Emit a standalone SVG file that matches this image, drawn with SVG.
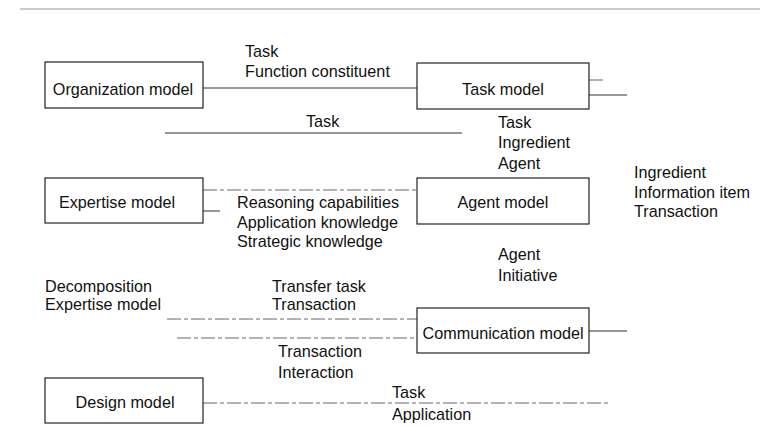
<svg xmlns="http://www.w3.org/2000/svg" width="760" height="427" viewBox="0 0 760 427">
<style>
.box{fill:#fff;stroke:#222;stroke-width:1.2}
.t{font-family:"Liberation Sans",Arial,sans-serif;font-size:16.2px;fill:#111}
.c{text-anchor:middle}
.ln{stroke:#333;stroke-width:1;fill:none}
.dl{stroke:#666;stroke-width:1;fill:none;stroke-dasharray:14 3 4 3}
.fl{stroke:#999;stroke-width:1;fill:none}
</style>
<rect width="760" height="427" fill="#fff"/>
<line class="fl" x1="20" y1="9" x2="760" y2="9"/>
<g id="connectors">
<line class="ln" x1="203" y1="88" x2="417" y2="88"/>
<line class="dl" x1="589" y1="80" x2="605" y2="80"/>
<line class="ln" x1="589" y1="95" x2="627" y2="95"/>
<line class="ln" x1="165" y1="133" x2="462" y2="133"/>
<line class="dl" x1="203" y1="190" x2="417" y2="190"/>
<line class="ln" x1="203" y1="211" x2="220" y2="211"/>
<line class="dl" x1="167" y1="319" x2="417" y2="319"/>
<line class="dl" x1="177" y1="338" x2="417" y2="338"/>
<line class="ln" x1="589" y1="331" x2="627" y2="331"/>
<line class="dl" x1="203" y1="403" x2="609" y2="403"/>
</g>
<g id="organization-model">
<rect class="box" x="45" y="62" width="158" height="46"/>
<text class="t c" x="123" y="95">Organization model</text>
</g>
<g id="task-model">
<rect class="box" x="417" y="63" width="172" height="46"/>
<text class="t c" x="503" y="95">Task model</text>
</g>
<g id="expertise-model">
<rect class="box" x="45" y="178" width="158" height="45"/>
<text class="t c" x="117" y="208">Expertise model</text>
</g>
<g id="agent-model">
<rect class="box" x="417" y="178" width="172" height="46"/>
<text class="t c" x="503" y="208">Agent model</text>
</g>
<g id="communication-model">
<rect class="box" x="417" y="308" width="172" height="45"/>
<text class="t c" x="503" y="339">Communication model</text>
</g>
<g id="design-model">
<rect class="box" x="45" y="378" width="158" height="45"/>
<text class="t c" x="125" y="408">Design model</text>
</g>
<g id="labels">
<text class="t" x="245" y="57">Task</text>
<text class="t" x="245" y="77">Function constituent</text>
<text class="t" x="306" y="127">Task</text>
<text class="t" x="498" y="128">Task</text>
<text class="t" x="498" y="148">Ingredient</text>
<text class="t" x="498" y="169">Agent</text>
<text class="t" x="634" y="178">Ingredient</text>
<text class="t" x="634" y="198">Information item</text>
<text class="t" x="634" y="217">Transaction</text>
<text class="t" x="237" y="208">Reasoning capabilities</text>
<text class="t" x="237" y="228">Application knowledge</text>
<text class="t" x="237" y="247">Strategic knowledge</text>
<text class="t" x="498" y="260">Agent</text>
<text class="t" x="498" y="281">Initiative</text>
<text class="t" x="45" y="292">Decomposition</text>
<text class="t" x="45" y="310">Expertise model</text>
<text class="t" x="272" y="292">Transfer task</text>
<text class="t" x="272" y="310">Transaction</text>
<text class="t" x="278" y="357">Transaction</text>
<text class="t" x="278" y="378">Interaction</text>
<text class="t" x="392" y="398">Task</text>
<text class="t" x="392" y="420">Application</text>
</g>
</svg>
